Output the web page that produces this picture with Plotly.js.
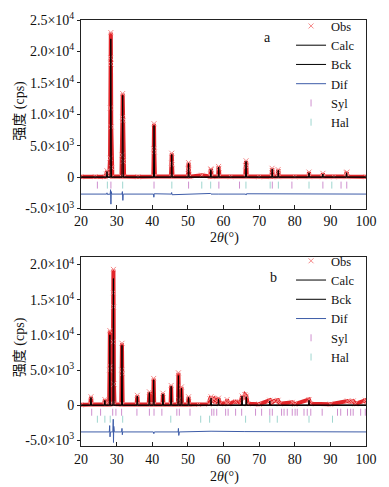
<!DOCTYPE html>
<html>
<head>
<meta charset="utf-8">
<script src="https://cdn.plot.ly/plotly-3.0.1.min.js"></script>
<style>html,body{margin:0;padding:0;background:#fff}#chart{width:389px;height:487px}</style>
</head>
<body>
<div id="chart"></div>
<script>
// ---------- Panel a ----------
const obsX_a = [20,24,26.8,27.15,27.3,27.45,27.9,28.15,28.25,28.32,28.37,28.42,28.5,28.6,28.8,31.35,31.52,31.62,31.7,31.78,31.88,32.1,36,40.3,40.42,40.5,40.58,40.75,45.25,45.38,45.47,45.56,45.7,50.0,50.12,50.2,50.28,50.42,53.9,56.3,56.42,56.52,56.65,58.5,58.62,58.72,58.85,62,66.1,66.25,66.33,66.42,66.55,70,73.5,73.63,73.72,73.85,75.2,75.33,75.43,75.55,80,83.85,84.0,84.15,87.75,87.9,88.05,91,94.35,94.5,94.62,94.75,100];
const obsY_a = [50,80,60,500,1000,400,100,3000,11000,19000,23000,18000,8000,1500,100,100,3500,9500,13300,9000,2500,100,60,100,4500,8500,4000,100,100,2200,3800,2000,100,100,1300,2300,1100,80,300,100,1300,1200,80,100,1700,1400,100,60,100,1800,2600,1700,100,50,80,1400,1000,80,80,1200,900,80,50,80,800,80,80,600,80,50,80,700,800,80,60];
const calcX_a = [20,27.15,27.3,27.45,28.2,28.37,28.55,31.5,31.7,31.9,40.35,40.5,40.65,45.32,45.47,45.62,50.07,50.2,50.33,56.32,56.45,56.58,58.52,58.65,58.78,66.18,66.33,66.48,73.54,73.67,73.8,75.25,75.38,75.51,83.88,84.0,84.12,87.78,87.9,88.02,94.42,94.55,94.68,100];
const calcY_a = [0,0,900,0,0,22000,0,0,13000,0,0,8200,0,0,3600,0,0,2200,0,0,1200,0,0,1600,0,0,2500,0,0,1300,0,0,1100,0,0,700,0,0,500,0,0,700,0,0];
const bckX_a = [20,100];
const bckY_a = [0,0];
const difX_a = [20,27.2,27.3,27.4,28.2,28.3,28.4,28.5,28.6,31.5,31.62,31.75,31.85,40.35,40.45,40.55,45.35,45.45,45.55,50.1,50.2,56.4,56.5,58.6,58.7,66.2,66.35,66.45,100];
const difY_a = [-2700,-2700,-2500,-2750,-2700,-2000,-4300,-2300,-2700,-2700,-2300,-3700,-2700,-2700,-3200,-2650,-2700,-2450,-2800,-2700,-2800,-2600,-2700,-2600,-2700,-2700,-2850,-2650,-2700];
const sylX_a = [24.6,28.4,40.5,50.2,58.7,64.5,73.7,79.2,87.9,93.0,94.6];
const halX_a = [27.4,31.7,45.5,53.9,56.4,66.3,73.1,75.4,84.0,90.4];
const tickLevel_a = -1270;

// ---------- Panel b ----------
const obsX_b = [20,22.6,22.8,23.0,26.5,26.7,26.9,27.9,28.02,28.1,28.18,28.3,28.85,28.97,29.05,29.1,29.16,29.25,29.4,31.3,31.42,31.5,31.58,31.7,35.6,35.8,36.0,39.0,39.2,39.4,40.25,40.4,40.55,42.85,43.0,43.15,45.15,45.3,45.45,47.2,47.35,47.5,48.2,48.35,50.05,50.2,50.35,53,55.9,56.2,56.5,56.8,57.3,57.6,58.6,59,60.8,61.0,61.3,63.4,64.8,65.2,65.6,66.0,66.4,66.8,70,73.0,73.4,74.2,75.3,75.8,79.3,80,84.0,84.4,90,94.8,95.7,96.4,97,99.8,100];
const obsY_b = [50,100,1200,100,100,800,100,100,5000,10600,5500,200,200,9000,16000,19300,14000,3000,150,100,5000,8800,4500,100,100,1400,100,100,1900,100,100,3800,100,100,1700,100,100,2800,100,100,4600,800,2600,100,100,1200,100,100,150,900,1200,700,900,300,1000,200,300,800,200,500,300,1300,1000,1500,1300,200,150,700,300,600,700,200,400,150,800,200,150,600,500,600,200,700,300];
const calcX_b = [20,22.65,22.8,22.95,26.55,26.7,26.85,27.95,28.1,28.25,28.95,29.1,29.25,31.35,31.5,31.65,35.65,35.8,35.95,39.05,39.2,39.35,40.25,40.4,40.55,42.85,43.0,43.15,45.15,45.3,45.45,47.2,47.35,47.5,48.05,48.2,48.35,50.05,50.2,50.35,56.35,56.5,56.65,58.45,58.6,58.75,65.05,65.2,65.35,66.25,66.4,66.55,72.85,73.0,73.15,83.85,84.0,84.15,100];
const calcY_b = [0,0,1100,0,0,700,0,0,10000,0,0,18000,0,0,8500,0,0,1300,0,0,1800,0,0,3600,0,0,1600,0,0,2700,0,0,4200,0,0,2400,0,0,1100,0,0,1000,0,0,900,0,0,1300,0,0,1200,0,0,600,0,0,700,0,0];
const bckX_b = [20,100];
const bckY_b = [0,0];
const difX_b = [20,27.95,28.05,28.15,28.25,28.95,29.05,29.12,29.2,29.35,31.4,31.5,31.6,31.7,40.3,40.45,40.6,47.25,47.35,47.45,47.6,56.5,66,100];
const difY_b = [-3800,-3800,-2900,-4500,-3800,-3800,-2000,-5300,-3000,-3800,-3800,-3300,-4200,-3800,-3800,-4050,-3800,-3800,-3300,-4300,-3800,-3700,-3750,-3800];
const sylX_b = [23.0,25.5,28.9,29.8,31.4,35.7,39.2,40.5,42.7,46.9,47.6,50.6,56.7,57.3,58.1,60.6,61.3,63.4,65.1,69.0,70.7,73.0,73.7,76.3,77.0,77.9,79.3,80.1,80.7,82.6,83.5,84.5,87.7,92.0,92.9,94.8,95.7,96.4,98.5,99.8];
const halX_b = [24.6,26.7,28.2,31.7,45.2,53.6,56.1,66.2,73.0,75.1,84.0,90.6];
const sylLevel_b = -1000;
const halLevel_b = -1990;

// ---------- Ticks ----------
const xTicks = [20,30,40,50,60,70,80,90,100];
const yTickVals_a = [-5000,0,5000,10000,15000,20000,25000];
const yTickText_a = ['-5.0×10<sup>3</sup>','0','5.0×10<sup>3</sup>','1.0×10<sup>4</sup>','1.5×10<sup>4</sup>','2.0×10<sup>4</sup>','2.5×10<sup>4</sup>'];
const yTickVals_b = [-5000,0,5000,10000,15000,20000];
const yTickText_b = ['-5.0×10<sup>3</sup>','0','5.0×10<sup>3</sup>','1.0×10<sup>4</sup>','1.5×10<sup>4</sup>','2.0×10<sup>4</sup>'];

const RED = '#e2262a', PINK_X = '#f58a8a', BLUE = '#3d5ca8', SYL = '#cf8fcf', HAL = '#9fd6cf';
const FONT = '"Liberation Serif", "Times New Roman", "Noto Sans CJK SC", serif';

function panel(xa, ya, lg, d) {
  return [
    {x:d.bx, y:d.by, xaxis:xa, yaxis:ya, mode:'lines', name:'Bck', legend:lg, legendrank:3,
     line:{color:'#000', width:1}},
    {x:d.ox, y:d.oy, xaxis:xa, yaxis:ya, mode:'lines', showlegend:false, hoverinfo:'skip',
     line:{color:RED, width:4}},
    {x:d.ox, y:d.oy, xaxis:xa, yaxis:ya, mode:'markers', name:'Obs', legend:lg, legendrank:1,
     marker:{symbol:'x-thin-open', size:5, color:PINK_X, line:{color:PINK_X, width:1}}},
    {x:d.cx, y:d.cy, xaxis:xa, yaxis:ya, mode:'lines', name:'Calc', legend:lg, legendrank:2,
     line:{color:'#000', width:1}},
    {x:d.bx, y:d.by, xaxis:xa, yaxis:ya, mode:'lines', showlegend:false, hoverinfo:'skip',
     line:{color:'#000', width:1}},
    {x:d.dx, y:d.dy, xaxis:xa, yaxis:ya, mode:'lines', name:'Dif', legend:lg, legendrank:4,
     line:{color:BLUE, width:1}},
    {x:d.sx, y:d.sx.map(()=>d.sl), xaxis:xa, yaxis:ya, mode:'markers', name:'Syl', legend:lg, legendrank:5,
     marker:{symbol:'line-ns-open', size:5, color:SYL, line:{color:SYL, width:1}}},
    {x:d.hx, y:d.hx.map(()=>d.hl), xaxis:xa, yaxis:ya, mode:'markers', name:'Hal', legend:lg, legendrank:6,
     marker:{symbol:'line-ns-open', size:5, color:HAL, line:{color:HAL, width:1}}}
  ];
}

const data = [].concat(
  panel('x','y','legend',{bx:bckX_a,by:bckY_a,ox:obsX_a,oy:obsY_a,cx:calcX_a,cy:calcY_a,dx:difX_a,dy:difY_a,sx:sylX_a,sl:tickLevel_a,hx:halX_a,hl:tickLevel_a}),
  panel('x2','y2','legend2',{bx:bckX_b,by:bckY_b,ox:obsX_b,oy:obsY_b,cx:calcX_b,cy:calcY_b,dx:difX_b,dy:difY_b,sx:sylX_b,sl:sylLevel_b,hx:halX_b,hl:halLevel_b})
);

const xCommon = {range:[20,100], tickmode:'array', tickvals:xTicks, ticks:'inside', ticklen:4, tickcolor:'#222',
  showline:true, mirror:true, linecolor:'#222', linewidth:1, showgrid:false, zeroline:false,
  tickfont:{family:FONT, size:14, color:'#111'}};
const yCommon = {ticks:'outside', ticklen:3, tickcolor:'#222', tickmode:'array',
  showline:true, mirror:true, linecolor:'#222', linewidth:1, showgrid:false, zeroline:false,
  tickfont:{family:FONT, size:14, color:'#111'}};

const legendCommon = {bgcolor:'rgba(0,0,0,0)', borderwidth:0, font:{family:FONT, size:12.5, color:'#111'},
  xanchor:'left', yanchor:'top', itemwidth:30, tracegroupgap:0};

const ann = (text, x, y, extra) => Object.assign({text, x, y, xref:'paper', yref:'paper', showarrow:false,
  xanchor:'center', yanchor:'middle', font:{family:FONT, size:14, color:'#111'}}, extra||{});

const layout = {
  width:389, height:487,
  margin:{l:81, r:23, t:19, b:41},
  paper_bgcolor:'#fff', plot_bgcolor:'#fff',
  showlegend:true,
  xaxis: Object.assign({}, xCommon, {domain:[0,1], anchor:'y'}),
  yaxis: Object.assign({}, yCommon, {domain:[0.5574,1], anchor:'x', range:[-5000,25000], tickvals:yTickVals_a, ticktext:yTickText_a}),
  xaxis2: Object.assign({}, xCommon, {domain:[0,1], anchor:'y2'}),
  yaxis2: Object.assign({}, yCommon, {domain:[0,0.4426], anchor:'x2', range:[-5800,21000], tickvals:yTickVals_b, ticktext:yTickText_b}),
  legend: Object.assign({}, legendCommon, {x:0.737, y:1.018}),
  legend2: Object.assign({}, legendCommon, {x:0.737, y:0.468}),
  annotations: [
    ann('强度 (cps)', -0.214, 0.787, {textangle:-90}),
    ann('强度 (cps)', -0.214, 0.232, {textangle:-90}),
    ann('2<i>θ</i>(°)', 0.502, 0.489),
    ann('2<i>θ</i>(°)', 0.502, -0.0726),
    ann('a', 0.653, 0.958),
    ann('b', 0.674, 0.396)
  ]
};

Plotly.newPlot('chart', data, layout, {staticPlot:true, displayModeBar:false});
</script>
</body>
</html>
